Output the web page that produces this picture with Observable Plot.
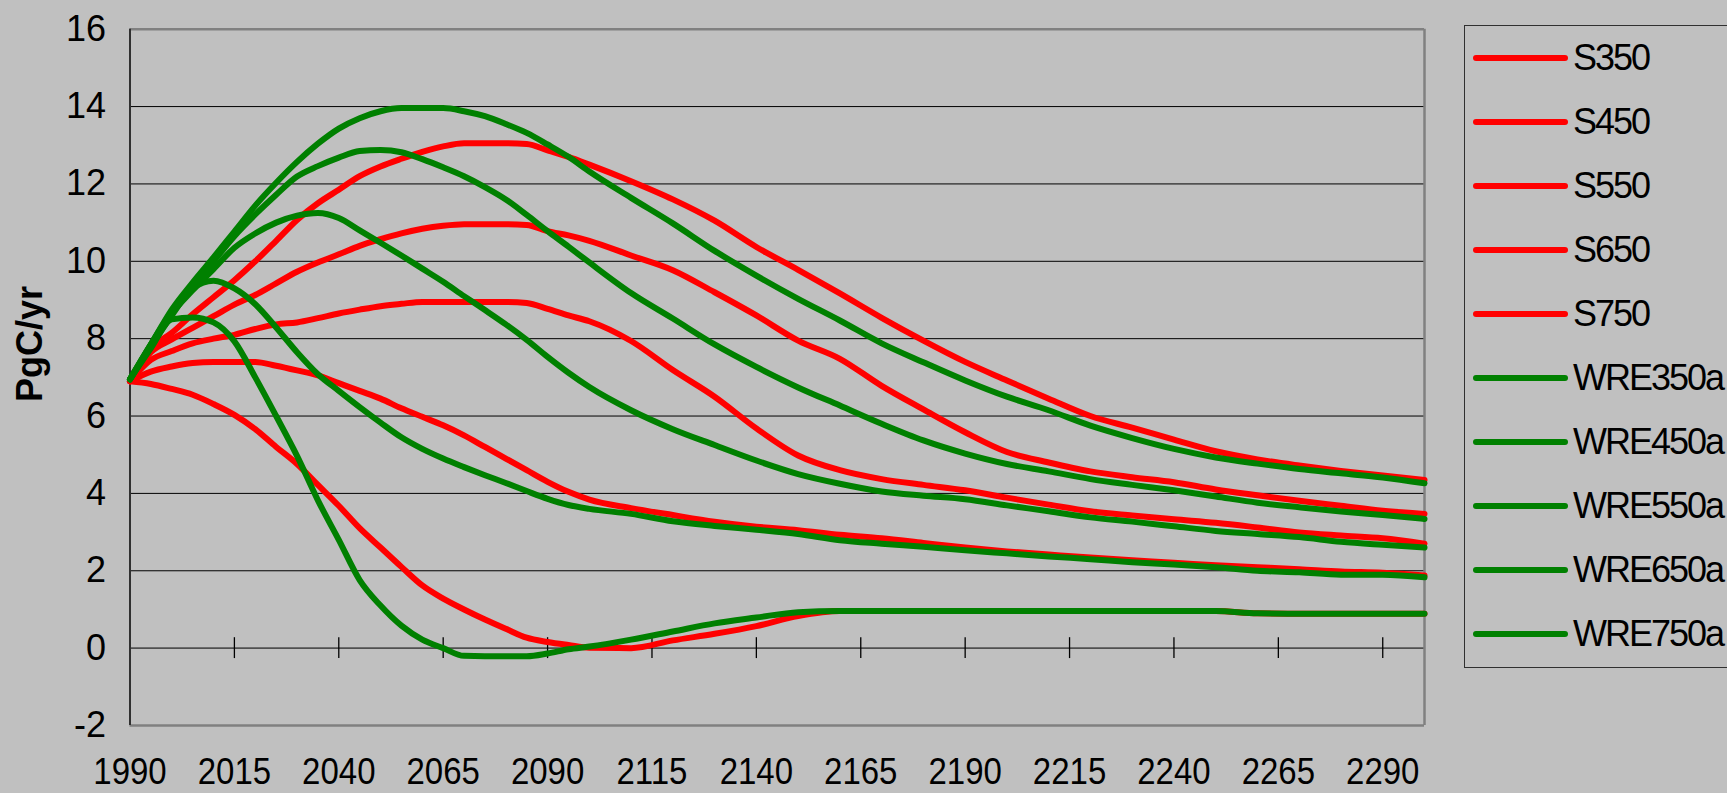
<!DOCTYPE html>
<html>
<head>
<meta charset="utf-8">
<script src="https://cdn.jsdelivr.net/npm/d3@7"></script>
<script src="https://cdn.jsdelivr.net/npm/@observablehq/plot@0.6"></script>
<style>
  html, body { margin: 0; padding: 0; background: #C0C0C0; }
  #wrap { position: relative; width: 1727px; height: 793px; overflow: hidden; font-family: Arial, "Liberation Sans", sans-serif; }
  #chart svg { display: block; }
  #legend { position: absolute; left: 1464px; top: 25px; width: 320px; height: 643px; border: 1px solid #303030; box-sizing: border-box; }
  .item { position: absolute; left: 0; height: 40px; width: 300px; }
  .item svg { position: absolute; left: 0; top: 0; }
  .item span { position: absolute; left: 108px; top: 0; line-height: 40px; font-size: 36px; letter-spacing: -2px; color: #000; white-space: nowrap; }
</style>
</head>
<body>
<div id="wrap">
  <div id="chart"></div>
  <div id="legend"></div>
</div>
<script>
// ---- data (PgC/yr) ----
const years = [1990,1995,2000,2005,2010,2015,2020,2025,2030,2035,2040,2045,2050,2055,2060,2065,2070,2075,2080,2085,2090,2095,2100,2110,2120,2130,2140,2150,2160,2170,2180,2190,2200,2210,2220,2230,2240,2250,2260,2270,2280,2290,2300];

const S350 = [6.9,6.83,6.7,6.55,6.31,6.03,5.66,5.2,4.76,4.22,3.68,3.1,2.6,2.1,1.62,1.28,1.0,0.74,0.5,0.27,0.16,0.08,0.01,0.0,0.2,0.37,0.57,0.83,0.96,0.96,0.96,0.96,0.96,0.96,0.96,0.96,0.96,0.96,0.9,0.89,0.89,0.89,0.89];
const S450 = [6.9,7.15,7.28,7.37,7.4,7.4,7.4,7.3,7.18,7.05,6.85,6.65,6.45,6.2,5.98,5.76,5.5,5.2,4.9,4.6,4.3,4.04,3.84,3.62,3.44,3.27,3.14,3.05,2.93,2.84,2.72,2.6,2.5,2.42,2.34,2.27,2.21,2.14,2.09,2.04,1.98,1.95,1.88];
const S550 = [6.9,7.45,7.68,7.88,8.0,8.1,8.25,8.37,8.42,8.53,8.65,8.75,8.84,8.9,8.95,8.95,8.95,8.95,8.95,8.92,8.77,8.6,8.45,7.94,7.19,6.5,5.68,4.98,4.6,4.37,4.22,4.08,3.89,3.71,3.54,3.43,3.33,3.24,3.12,2.99,2.91,2.84,2.7];
const S650 = [6.9,7.65,7.98,8.28,8.58,8.88,9.13,9.43,9.73,9.97,10.18,10.4,10.57,10.72,10.84,10.92,10.96,10.96,10.96,10.94,10.78,10.67,10.53,10.15,9.77,9.2,8.6,7.95,7.48,6.78,6.17,5.58,5.07,4.8,4.57,4.42,4.29,4.1,3.95,3.81,3.68,3.55,3.47];
const S750 = [6.9,7.75,8.15,8.63,9.07,9.51,10.0,10.53,11.07,11.5,11.85,12.2,12.45,12.65,12.83,12.97,13.05,13.05,13.05,13.03,12.87,12.7,12.5,12.07,11.6,11.05,10.37,9.78,9.17,8.54,7.95,7.4,6.92,6.45,6.0,5.7,5.39,5.09,4.88,4.72,4.58,4.46,4.35];

const WRE350a = [6.95,7.75,8.5,8.55,8.42,7.93,7.0,6.0,4.97,3.82,2.8,1.76,1.1,0.58,0.22,0.0,-0.2,-0.21,-0.21,-0.21,-0.14,-0.03,0.04,0.22,0.43,0.64,0.79,0.93,0.96,0.96,0.96,0.96,0.96,0.96,0.96,0.96,0.96,0.96,0.9,0.89,0.89,0.89,0.89];
const WRE450a = [6.95,7.8,8.6,9.3,9.5,9.3,8.89,8.29,7.65,7.08,6.65,6.23,5.83,5.45,5.15,4.9,4.68,4.47,4.27,4.06,3.86,3.7,3.6,3.47,3.28,3.16,3.06,2.95,2.79,2.7,2.62,2.53,2.45,2.37,2.3,2.22,2.16,2.09,2.0,1.96,1.9,1.9,1.83];
const WRE550a = [6.95,7.85,8.65,9.25,9.8,10.35,10.72,11.0,11.18,11.25,11.12,10.8,10.48,10.15,9.81,9.47,9.1,8.74,8.37,7.97,7.53,7.12,6.75,6.15,5.66,5.25,4.85,4.5,4.25,4.05,3.94,3.85,3.69,3.54,3.38,3.27,3.15,3.03,2.95,2.87,2.75,2.67,2.6];
const WRE650a = [6.95,7.85,8.7,9.35,10.0,10.65,11.21,11.72,12.19,12.46,12.68,12.85,12.88,12.82,12.64,12.43,12.2,11.92,11.6,11.2,10.78,10.38,9.97,9.18,8.52,7.85,7.27,6.74,6.27,5.8,5.37,5.03,4.76,4.57,4.37,4.22,4.08,3.92,3.76,3.64,3.53,3.44,3.34];
const WRE750a = [6.95,7.85,8.75,9.45,10.1,10.77,11.44,12.03,12.57,13.04,13.43,13.7,13.88,13.96,13.96,13.96,13.88,13.75,13.55,13.32,13.02,12.7,12.32,11.64,10.98,10.27,9.63,9.03,8.47,7.88,7.39,6.92,6.5,6.15,5.75,5.43,5.15,4.93,4.77,4.63,4.52,4.41,4.26];

const seriesNames = ["S350","S450","S550","S650","S750","WRE350a","WRE450a","WRE550a","WRE650a","WRE750a"];
const seriesValues = [S350,S450,S550,S650,S750,WRE350a,WRE450a,WRE550a,WRE650a,WRE750a];
const seriesColors = ["#FF0000","#FF0000","#FF0000","#FF0000","#FF0000","#008000","#008000","#008000","#008000","#008000"];

const xTicks = [1990,2015,2040,2065,2090,2115,2140,2165,2190,2215,2240,2265,2290];
const yTicks = [-2,0,2,4,6,8,10,12,14,16];
const gridValues = [2,4,6,8,10,12,14];
const yTitle = "PgC/yr";

// ---- chart ----
const lineMarks = seriesNames.map((name, i) =>
  Plot.line(years.map((yr, j) => ({year: yr, value: seriesValues[i][j]})), {
    x: "year", y: "value", stroke: seriesColors[i], strokeWidth: 6, curve: "monotone-x"
  })
);

const chart = Plot.plot({
  width: 1727,
  height: 793,
  marginLeft: 129.5,
  marginRight: 303,
  marginTop: 28.7,
  marginBottom: 68,
  style: { background: "transparent", fontFamily: "Arial, 'Liberation Sans', sans-serif", color: "#000" },
  x: { domain: [1990, 2300] },
  y: { domain: [-2, 16] },
  marks: [
    Plot.ruleY(gridValues, { stroke: "#000", strokeWidth: 1 }),
    Plot.ruleY([0], { stroke: "#505050", strokeWidth: 1.6 }),
    Plot.ruleX(xTicks, { x: d => d, y1: -0.27, y2: 0.27, stroke: "#000", strokeWidth: 1.3 }),
    Plot.ruleY([16, -2], { stroke: "#808080", strokeWidth: 2.5 }),
    Plot.ruleX([2300], { stroke: "#808080", strokeWidth: 2.5 }),
    Plot.ruleX([1990], { stroke: "#303030", strokeWidth: 2 }),
    Plot.axisY({ ticks: yTicks, tickSize: 0, tickPadding: 24, fontSize: 36, tickFormat: d => String(d), fill: "#000", label: null }),
    Plot.axisX({ ticks: xTicks, tickSize: 0, tickPadding: 33, fontSize: 33, tickFormat: d => String(d), fill: "#000", label: null }),
    ...lineMarks
  ]
});

// x tick labels in the reference are slightly taller than wide
d3.select(chart).selectAll('g[aria-label="x-axis tick label"] text').each(function() {
  const t = this.getAttribute("transform") || "";
  this.setAttribute("transform", t + " scale(1,1.1)");
});

d3.select(chart).append("text")
  .attr("transform", "translate(42,344) rotate(-90)")
  .attr("text-anchor", "middle")
  .attr("font-size", 36)
  .attr("font-weight", "bold")
  .attr("fill", "#000")
  .text(yTitle);

document.getElementById("chart").appendChild(chart);

// ---- legend ----
const legend = d3.select("#legend");
seriesNames.forEach((name, i) => {
  const item = legend.append("div").attr("class", "item").style("top", (12 + 64 * i) + "px");
  const svg = item.append("svg").attr("width", 104).attr("height", 40);
  svg.append("line").attr("x1", 11).attr("x2", 100).attr("y1", 20).attr("y2", 20)
    .attr("stroke", seriesColors[i]).attr("stroke-width", 6).attr("stroke-linecap", "round");
  item.append("span").text(name);
});
</script>
</body>
</html>
